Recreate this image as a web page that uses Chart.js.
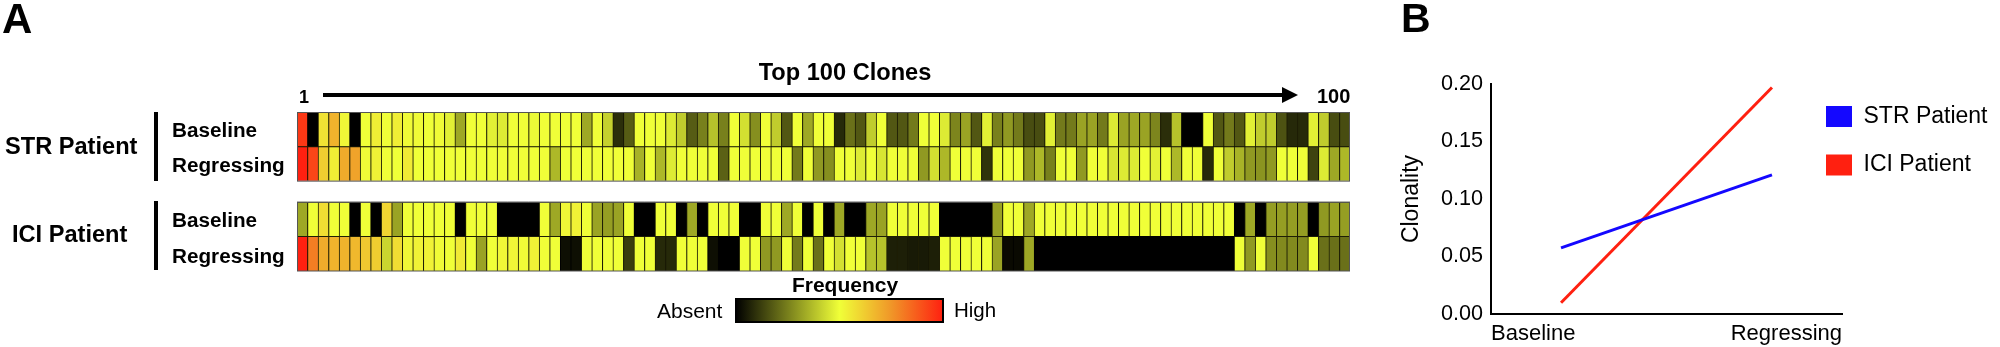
<!DOCTYPE html>
<html><head><meta charset="utf-8">
<script src="https://cdn.jsdelivr.net/npm/chart.js@4"></script>
<style>
html,body{margin:0;padding:0;background:#fff;width:2000px;height:347px;overflow:hidden;font-family:"Liberation Sans",Arial,sans-serif;color:#000}
canvas{position:absolute;top:0}
.t{position:absolute;white-space:nowrap;line-height:1;transform:translate(0,-50%)}
.c{transform:translate(-50%,-50%)}
.b{font-weight:bold}
.bar{position:absolute;background:#000}
</style></head><body>
<canvas id="heat" width="1380" height="347" style="left:0"></canvas>
<canvas id="line" width="620" height="347" style="left:1380px"></canvas>
<div class="t b" style="left:2px;top:19px;font-size:42px">A</div>
<div class="t b" style="left:1401px;top:18px;font-size:41px">B</div>
<div class="t b c" style="left:845px;top:73px;font-size:23.6px">Top 100 Clones</div>
<div class="t b" style="left:299px;top:97px;font-size:18px">1</div>
<div class="t b" style="left:1317px;top:96px;font-size:20px">100</div>
<div class="t b" style="left:5px;top:147px;font-size:23.6px">STR Patient</div>
<div class="t b" style="left:12px;top:235px;font-size:23.6px">ICI Patient</div>
<div class="t b" style="left:172px;top:130px;font-size:20.7px">Baseline</div>
<div class="t b" style="left:172px;top:165px;font-size:20.7px">Regressing</div>
<div class="t b" style="left:172px;top:220px;font-size:20.7px">Baseline</div>
<div class="t b" style="left:172px;top:256px;font-size:20.7px">Regressing</div>
<div class="bar" style="left:154px;top:112px;width:4px;height:69px"></div>
<div class="bar" style="left:154px;top:201px;width:4px;height:69px"></div>
<div class="t b c" style="left:845px;top:284px;font-size:21px">Frequency</div>
<div class="t" style="left:657px;top:310px;font-size:21px">Absent</div>
<div class="t" style="left:954px;top:310px;font-size:20.5px">High</div>
<script>
const clones = Array.from({length:100},(_,i)=>String(i+1));
const strBaseline = [
95,0,57,68,52,0,50,54,50,54, 51,51,50,51,47,33,50,50,47,46,
50,50,49,50,50,50,50,33,50,41, 9,18,50,50,50,46,40,18,25,38,
25,50,44,28,50,40,17,50,33,50, 50,8,22,17,40,50,17,17,24,50,
50,46,26,32,17,47,25,30,24,15, 15,47,24,24,32,32,24,46,32,33,
32,26,9,38,0,0,50,17,24,17, 47,40,40,16,8,8,47,40,15,15];
const strRegressing = [
100,92,62,54,70,72,51,53,50,50, 55,50,50,50,50,50,50,50,50,50,
50,50,50,50,36,50,50,50,50,50, 50,50,35,50,36,46,50,50,50,50,
19,50,50,50,50,50,50,24,50,30, 28,50,50,46,50,45,50,50,50,30,
44,36,50,50,50,10,50,50,50,30, 36,25,50,50,30,50,50,45,46,46,
50,47,50,36,50,50,8,50,40,35, 30,29,30,50,50,50,13,46,33,36];
const iciBaseline = [
33,50,58,50,50,0,50,0,60,32, 50,50,50,50,50,0,50,50,50,0,
0,0,0,50,33,52,53,50,32,31, 32,50,0,0,50,50,0,33,0,50,
50,50,0,0,50,50,33,50,0,50, 0,33,0,0,33,32,50,50,50,50,
50,0,0,0,0,0,32,50,50,33, 50,50,50,50,50,50,50,50,50,50,
50,50,50,50,50,50,50,50,50,0, 33,0,31,31,31,31,0,30,32,31];
const iciRegressing = [
100,80,70,68,68,67,63,62,42,58, 52,53,53,51,50,55,50,32,50,52,
52,51,53,50,50,3,3,50,50,50, 50,12,50,50,8,8,50,50,50,3,
0,0,50,50,30,30,50,24,50,22, 50,44,50,50,38,38,6,6,5,5,
6,50,50,50,50,50,32,2,2,33, 0,0,0,0,0,0,0,0,0,0,
0,0,0,0,0,0,0,0,0,50, 30,50,28,27,27,27,50,22,22,22];
const timepoints = ["Baseline","Regressing"];
const strClonality = [0.0575,0.121];
const iciClonality = [0.0098,0.197];
const yTicks = [0,0.05,0.10,0.15,0.20];
const rampStops = [[0,[0,0,0]],[50,[240,255,56]],[75,[240,150,40]],[100,[255,32,16]]];
function ramp(v){
  for(let i=1;i<rampStops.length;i++){
    const [a,ca]=rampStops[i-1],[b,cb]=rampStops[i];
    if(v<=b){const t=(v-a)/(b-a);return `rgb(${ca.map((c,k)=>Math.round(c+(cb[k]-c)*t)).join(',')})`;}
  }
  return 'rgb(255,32,16)';
}
const ROW=1, GAP=0.6;
function row(name,levels){return {label:name,stack:'s',
  data:levels.map((v,i)=>({x:clones[i],y:ROW,level:v})),
  backgroundColor:c=>ramp(c.raw.level),
  borderColor:c=>c.raw.level<=3?'#000':'rgb(30,30,5)',
  borderWidth:{left:1,top:1,right:0,bottom:0},borderSkipped:false,
  barPercentage:1,categoryPercentage:1};}
function blockRects(y){return [[2*ROW+GAP+2*ROW,2*ROW+GAP],[2*ROW,0]].map(([a,b])=>[y.getPixelForValue(a),y.getPixelForValue(b)]);}
const heatExtras={id:'heatExtras',
 beforeDatasetsDraw(chart){
  const c=chart.ctx,a=chart.chartArea;
  c.save();c.fillStyle='#000';
  blockRects(chart.scales.y).forEach(([t,b])=>c.fillRect(a.left,t,a.right-a.left,b-t));
  c.restore();
 },
 afterDraw(chart){
  const c=chart.ctx,a=chart.chartArea;
  c.save();
  c.strokeStyle='#555';c.lineWidth=1;
  blockRects(chart.scales.y).forEach(([t,b])=>c.strokeRect(a.left+.5,t+.5,a.right-a.left-1,b-t-.5));
  // arrow
  c.strokeStyle='#000';c.fillStyle='#000';c.lineWidth=4;
  c.beginPath();c.moveTo(323,95);c.lineTo(1285,95);c.stroke();
  c.beginPath();c.moveTo(1298,95);c.lineTo(1282,87);c.lineTo(1282,103);c.closePath();c.fill();
  // colour bar
  const gx0=736,gx1=943,g=c.createLinearGradient(gx0,0,gx1,0);
  rampStops.forEach(([v])=>g.addColorStop(v/100,ramp(v)));
  c.fillStyle=g;c.fillRect(gx0,299,gx1-gx0,23);
  c.strokeStyle='#000';c.lineWidth=2;c.strokeRect(gx0,299,gx1-gx0,23);
  c.restore();
}};
new Chart(document.getElementById('heat'),{type:'bar',
  data:{labels:clones,datasets:[
    row('ICI Patient Regressing',iciRegressing),
    row('ICI Patient Baseline',iciBaseline),
    {label:'gap',stack:'s',data:clones.map(x=>({x,y:GAP})),backgroundColor:'#fff',borderWidth:0,barPercentage:1,categoryPercentage:1},
    row('STR Patient Regressing',strRegressing),
    row('STR Patient Baseline',strBaseline)]},
  options:{responsive:false,animation:false,events:[],
    layout:{padding:{left:297,right:30,top:112,bottom:76}},
    plugins:{legend:{display:false},tooltip:{enabled:false},title:{display:false}},
    scales:{x:{display:false,stacked:true},y:{display:false,stacked:true,min:0,max:4*ROW+GAP}}},
  plugins:[heatExtras]});

const legendPlace={id:'legendPlace',afterLayout(chart){
  const l=chart.legend,w=l.width,h=l.height,p=chart.options.plugins.legend.labels.padding;
  l.left=446-p;l.right=l.left+w;l.top=105-p;l.bottom=l.top+h;
}};
const pts=v=>v.map((y,i)=>({x:i,y}));
new Chart(document.getElementById('line'),{type:'line',
  data:{datasets:[
    {label:'STR Patient',data:pts(strClonality),borderColor:'#1408ff',backgroundColor:'#1408ff',borderWidth:3,pointRadius:0,borderCapStyle:'butt'},
    {label:'ICI Patient',data:pts(iciClonality),borderColor:'#ff2010',backgroundColor:'#ff2010',borderWidth:3,pointRadius:0,borderCapStyle:'butt'}]},
  options:{responsive:false,animation:false,events:[],
    layout:{padding:{left:0,right:158,top:84,bottom:0}},
    plugins:{tooltip:{enabled:false},title:{display:false},
      legend:{position:'chartArea',align:'start',
        labels:{boxWidth:26,boxHeight:21,padding:25.5,color:'#000',
          font:{family:'"Liberation Sans"',size:23},
          generateLabels:ch=>ch.data.datasets.map((d,i)=>({text:d.label,fillStyle:d.backgroundColor,strokeStyle:d.backgroundColor,lineWidth:0,datasetIndex:i}))}}},
    scales:{
      x:{type:'linear',min:-0.332,max:1.332,
        afterFit(s){s.height=33;},
        afterBuildTicks(s){s.ticks=[{value:s.min},{value:s.max}];},
        grid:{display:false,drawTicks:false},
        border:{color:'#000',width:2},
        ticks:{autoSkip:false,maxRotation:0,align:'inner',padding:7,color:'#000',
          font:{family:'"Liberation Sans"',size:22},
          callback:(v,i)=>timepoints[i]}},
      y:{min:0,max:0.2,
        afterFit(s){s.width=111;},
        afterBuildTicks(s){s.ticks=yTicks.map(value=>({value}));},
        grid:{display:false,drawTicks:true,tickLength:6,tickColor:'#000',tickWidth:2},
        border:{color:'#000',width:2},
        title:{display:true,text:'Clonality',color:'#000',padding:{top:18,bottom:0},font:{family:'"Liberation Sans"',size:23}},
        ticks:{padding:2,color:'#000',font:{family:'"Liberation Sans"',size:21.6},callback:v=>v.toFixed(2)}}}},
  plugins:[legendPlace]});
</script></body></html>
